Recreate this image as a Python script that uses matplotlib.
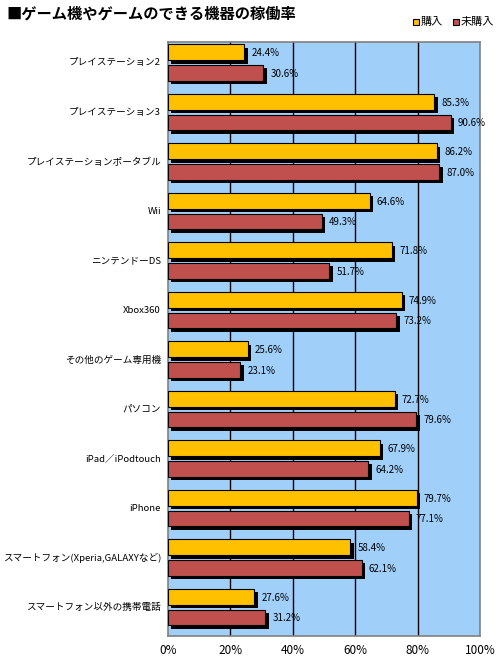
import matplotlib
matplotlib.use("Agg")
import matplotlib.pyplot as plt
import numpy as np

plt.rcParams['font.family'] = ['Noto Sans CJK JP', 'DejaVu Sans']

# data
devices = ["プレイステーション2", "プレイステーション3", "プレイステーションポータブル",
           "Wii", "ニンテンドーDS", "Xbox360", "その他のゲーム専用機", "パソコン",
           "iPad／iPodtouch", "iPhone", "スマートフォン(Xperia,GALAXYなど)",
           "スマートフォン以外の携帯電話"]
bought = [24.4, 85.3, 86.2, 64.6, 71.8, 74.9, 25.6, 72.7, 67.9, 79.7, 58.4, 27.6]
not_bought = [30.6, 90.6, 87.0, 49.3, 51.7, 73.2, 23.1, 79.6, 64.2, 77.1, 62.1, 31.2]
series = ["購入", "未購入"]
colors = ["#FFC000", "#C0504D"]
xticks = [0, 20, 40, 60, 80, 100]

W, H = 500, 658
fig = plt.figure(figsize=(W / 100, H / 100), dpi=100)
ax = fig.add_axes([168 / W, 1 - 636 / H, (480 - 168) / W, (636 - 42) / H])
ax.set_facecolor("#A0CFFA")

y = np.arange(len(devices))
bh = 0.32
offs = [-0.29, 0.125]
dx, dy = 1.1, 0.065  # shadow offset in data units

for vals, off, col in zip([bought, not_bought], offs, colors):
    ax.barh(y + off + dy, vals, left=dx, height=bh, color="black", zorder=2)
    ax.barh(y + off, vals, height=bh, color=col, edgecolor="black", linewidth=0.8, zorder=3)
    for yi, v in zip(y, vals):
        ax.text(v + dx + 1.2, yi + off + 0.02, f"{v:.1f}%", va="center", ha="left",
                fontsize=7, zorder=4)

ax.set_xlim(0, 100)
ax.set_ylim(len(devices) - 0.5, -0.5)
ax.set_xticks(xticks)
ax.set_xticklabels([f"{t}%" for t in xticks], fontsize=8.5)
ax.set_yticks(y - 0.1)
ax.set_yticklabels(devices, fontsize=6.9)
ax.tick_params(axis="y", length=0, pad=5)
ax.tick_params(axis="x", length=0, pad=6)
for t in xticks[1:-1]:
    ax.axvline(t, color="black", linewidth=1, zorder=1)
for s in ax.spines.values():
    s.set_color("#808080")
    s.set_linewidth(1.2)

fig.text(6 / W, 1 - 14 / H, "■ゲーム機やゲームのできる機器の稼働率", fontsize=11,
         fontweight="bold", va="center", ha="left")

# legend
lx = 413
for name, col in zip(series, colors):
    fig.patches.append(plt.Rectangle((lx / W, 1 - 25 / H), 6 / W, 6 / H, transform=fig.transFigure,
                                     facecolor=col, edgecolor="black", linewidth=0.8))
    fig.text((lx + 8) / W, 1 - 21.5 / H, name, fontsize=8, va="center", ha="left")
    lx += 40

fig.savefig("out.png", dpi=100)
